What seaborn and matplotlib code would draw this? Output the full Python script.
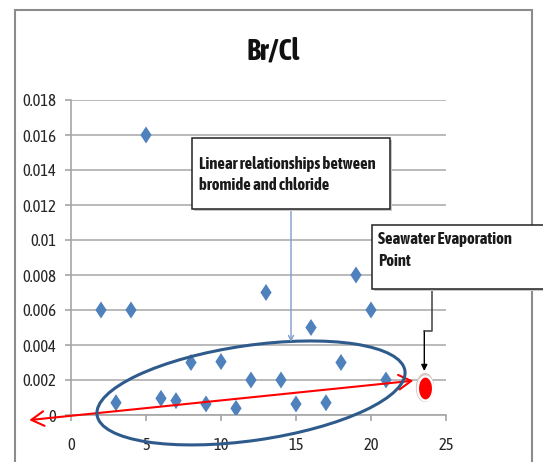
import numpy as np
import pandas as pd
import matplotlib.pyplot as plt
import matplotlib.patches as mpatches
import matplotlib.transforms as mtransforms
from matplotlib.path import Path
from matplotlib.lines import Line2D
import seaborn as sns

# sample number vs Br/Cl ratio
sample_no = [2, 3, 4, 5, 6, 7, 8, 9, 10, 11, 12, 13, 14, 15, 16, 17, 18, 19, 20, 21]
br_cl = [0.006, 0.0007, 0.006, 0.016, 0.00095, 0.00082, 0.003, 0.00063, 0.00305, 0.00038,
         0.002, 0.007, 0.002, 0.00063, 0.005, 0.0007, 0.003, 0.008, 0.006, 0.002]

# seawater evaporation point
sea_x = [23.6]
sea_y = [0.00157]

x_ticks = [0, 5, 10, 15, 20, 25]
y_ticks = [0, 0.002, 0.004, 0.006, 0.008, 0.01, 0.012, 0.014, 0.016, 0.018]
y_tick_labels = ['0', '0.002', '0.004', '0.006', '0.008', '0.01', '0.012', '0.014', '0.016', '0.018']

df = pd.DataFrame({'sample': sample_no, 'ratio': br_cl})
df_sea = pd.DataFrame({'sample': sea_x, 'ratio': sea_y})

sns.set_style('white')
NARROW = ['Asap Condensed', 'DejaVu Sans']
plt.rcParams['font.family'] = NARROW

W, H = 543, 462
fig = plt.figure(figsize=(W / 100, H / 100), dpi=100)


def px(x, y):
    # pixel position (from top-left) -> figure fraction
    return (x / W, 1 - y / H)


ax = fig.add_axes([71 / W, 1 - 415 / H, 375 / W, 315 / H])

# tall excel-like diamond
diamond = Path([(0, 1), (0.66, 0), (0, -1), (-0.66, 0), (0, 1)],
               [Path.MOVETO, Path.LINETO, Path.LINETO, Path.LINETO, Path.CLOSEPOLY])
sns.scatterplot(data=df, x='sample', y='ratio', marker=diamond, s=150,
                color='#4F81BD', edgecolor='none', ax=ax, zorder=3, legend=False)

# seawater point (slightly oval red dot with a light rim)
t = np.linspace(0, 2 * np.pi, 60)
oval = Path(np.column_stack([0.63 * np.cos(t), np.sin(t)]))
sns.scatterplot(data=df_sea, x='sample', y='ratio', marker=oval, s=440,
                color='#d6c6c6', edgecolor='none', ax=ax, zorder=5, legend=False, clip_on=False)
sns.scatterplot(data=df_sea, x='sample', y='ratio', marker=oval, s=300,
                color='#ff0000', edgecolor='white', linewidth=1.6, ax=ax, zorder=6,
                legend=False, clip_on=False)

ax.set_xlim(0, 25)
ax.set_ylim(0, 0.018)
ax.set_xticks(x_ticks)
ax.set_yticks(y_ticks)
ax.set_yticklabels(y_tick_labels)
ax.set_xlabel('')
ax.set_ylabel('')

ax.yaxis.grid(True, color='#b4b4b4', lw=1.3)
ax.xaxis.grid(False)
ax.set_axisbelow(True)
for s in ['top', 'right']:
    ax.spines[s].set_visible(False)
for s in ['left', 'bottom']:
    ax.spines[s].set_color('#a6a6a6')
    ax.spines[s].set_linewidth(1.2)
ax.tick_params(axis='y', length=4, width=1.2, color='#a6a6a6', pad=6.5,
               labelsize=12, labelcolor='#262626', left=True)
ax.tick_params(axis='x', length=4.5, width=1.2, color='#a6a6a6', pad=11,
               labelsize=12, labelcolor='#262626', bottom=True)

# red trend arrow
ax.annotate('', xy=(-2.78, -0.00029), xytext=(22.82, 0.00196),
            arrowprops=dict(arrowstyle='<->,head_length=0.6,head_width=0.35', color='red',
                            lw=1.5, mutation_scale=15, shrinkA=0, shrinkB=0),
            annotation_clip=False, zorder=4)

# ellipse around the linear group (size in inches, centre in data units)
ell_tr = fig.dpi_scale_trans + mtransforms.ScaledTranslation(12.0, 0.00126, ax.transData)
ax.add_patch(mpatches.Ellipse((0, 0), 3.11, 0.95, angle=8.2, fill=False, ec='#2f5b8c',
                              lw=2.2, transform=ell_tr, clip_on=False, zorder=4.5))
ax.set_xlim(0, 25)
ax.set_ylim(0, 0.018)

# title
fig.text(*px(273, 51), 'Br/Cl', ha='center', va='center', fontsize=21,
         fontweight='bold', color='#111111')

# outer chart frame
fig.add_artist(mpatches.Rectangle(px(15, 490), 517 / W, 480 / H, transform=fig.transFigure,
                                  fill=False, ec='#8c8c8c', lw=1.5, clip_on=False))

# callout boxes
def callout(x0, y0, x1, y1, lines, tx, baselines):
    ll = px(x0, y1)
    fig.add_artist(mpatches.Rectangle((ll[0] + 2 / W, ll[1] - 2 / H), (x1 - x0) / W, (y1 - y0) / H,
                                      transform=fig.transFigure, fc='#c8c8c8', ec='none',
                                      clip_on=False, zorder=7))
    fig.add_artist(mpatches.Rectangle(ll, (x1 - x0) / W, (y1 - y0) / H,
                                      transform=fig.transFigure, fc='white', ec='#222222',
                                      lw=1.1, clip_on=False, zorder=8))
    for line, b in zip(lines, baselines):
        fig.text(*px(tx, b), line, ha='left', va='baseline', fontsize=12,
                 fontweight='bold', color='#1a1a1a', zorder=9)


callout(192, 138, 390, 209, ['Linear relationships between', 'bromide and chloride'],
        199, [169, 190])
callout(372, 225, 570, 289, ['Seawater Evaporation', 'Point'], 378, [244, 266])

# connector from first box to ellipse
ax.annotate('', xy=px(291, 342), xycoords='figure fraction',
            xytext=px(291, 209), textcoords='figure fraction',
            arrowprops=dict(arrowstyle='->', color='#7f9ccb', lw=1, shrinkA=0, shrinkB=0,
                            mutation_scale=9),
            annotation_clip=False, zorder=6)

# elbow connector from second box to the red dot
p1, p2, p3 = px(431.7, 289), px(431.7, 330.7), px(424.3, 330.7)
fig.add_artist(Line2D([p1[0], p2[0], p3[0]], [p1[1], p2[1], p3[1]],
                      transform=fig.transFigure, color='#404040', lw=1.1))
ax.annotate('', xy=px(424.3, 371), xycoords='figure fraction',
            xytext=p3, textcoords='figure fraction',
            arrowprops=dict(arrowstyle='-|>', color='black', lw=1, shrinkA=0, shrinkB=0,
                            mutation_scale=9),
            annotation_clip=False, zorder=6)

fig.savefig('out.png', dpi=100)
